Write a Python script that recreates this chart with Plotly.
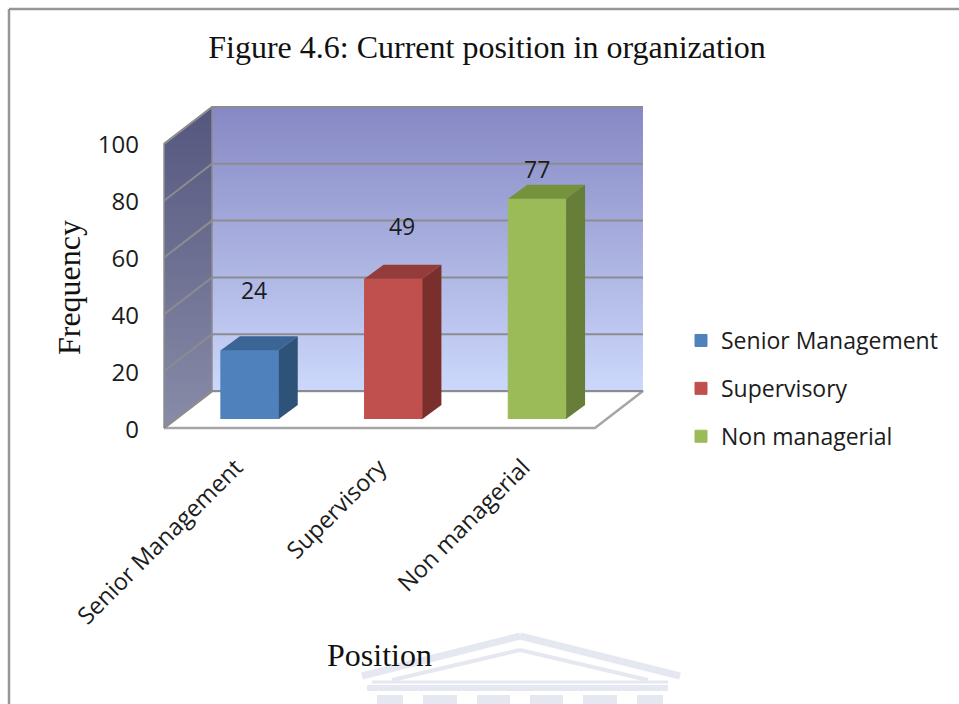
import plotly.graph_objects as go

categories = ["Senior Management", "Supervisory", "Non managerial"]
frequency = [24, 49, 77]
y_ticks = [0, 20, 40, 60, 80, 100]
colors_front = ["#4f81bd", "#c0504d", "#9bbb59"]
colors_top = ["#3a6594", "#943c39", "#76923c"]
colors_side = ["#2f5279", "#7a2f2c", "#667e38"]
label_lift = [20.0, 17.3, 9.3]
label_shift = [0.03, 0.06, 0]

# page margin is removed below, so the figure fills the window
W, H = 959, 704
def px(x): return x / W
def py(y): return 1 - y / H

# oblique depth in axis units
WALL_DX, WALL_DY = 0.334, 13.0
BAR_DX, BAR_DY = 0.132, 4.9
BAR_W = 0.403
PAD_X, PAD_Y = 0.028, 1.4
FS = "Liberation Serif"
FT = "Open Sans"
TXT = "#1c1c1c"

fig = go.Figure()

def poly(xs, ys, axes=("x", "y"), color=None, grad=None, line=None, lw=0, group=None):
    kw = dict(x=xs, y=ys, xaxis=axes[0], yaxis=axes[1], mode="lines", fill="toself",
              showlegend=False, hoverinfo="skip", cliponaxis=False,
              line=dict(color=line or "rgba(0,0,0,0)", width=lw))
    if grad:
        kw["fillgradient"] = dict(type="vertical", colorscale=[[0, grad[0]], [1, grad[1]]])
    else:
        kw["fillcolor"] = color
    if group:
        kw["legendgroup"] = group
    fig.add_trace(go.Scatter(**kw))

L, R = -0.5, 2.5
# floor
poly([L, R, R + WALL_DX, L + WALL_DX, L], [0, 0, WALL_DY, WALL_DY, 0], color="white", line="#a6a6a6", lw=2.5)
# back wall
poly([L + WALL_DX, R + WALL_DX, R + WALL_DX, L + WALL_DX, L + WALL_DX],
     [WALL_DY, WALL_DY, 100 + WALL_DY, 100 + WALL_DY, WALL_DY], grad=("#ccd8fb", "#8688c4"))
# side wall
poly([L, L + WALL_DX, L + WALL_DX, L, L], [0, WALL_DY, 100 + WALL_DY, 100, 0],
     grad=("#888ca8", "#55567e"), line="#8c8c90", lw=1.5)
# gridlines on both walls
for t in y_ticks:
    fig.add_trace(go.Scatter(
        x=[L, L + WALL_DX, R + WALL_DX], y=[t, t + WALL_DY, t + WALL_DY], mode="lines",
        line=dict(color="#8c8c90", width=2), showlegend=False, hoverinfo="skip", cliponaxis=False))

# bars
for i, (c, v) in enumerate(zip(categories, frequency)):
    fig.add_trace(go.Bar(x=[i], y=[v], width=BAR_W, name=c, legendgroup=c, xaxis="x2", yaxis="y2",
                         marker=dict(color=colors_front[i], line=dict(color=colors_front[i], width=1)),
                         hoverinfo="skip"))
    l, r = i - BAR_W / 2, i + BAR_W / 2
    poly([l, r, r + BAR_DX, l + BAR_DX, l], [v, v, v + BAR_DY, v + BAR_DY, v],
         axes=("x2", "y2"), color=colors_top[i], group=c)
    poly([r, r + BAR_DX, r + BAR_DX, r, r], [0, BAR_DY, v + BAR_DY, v, 0],
         axes=("x2", "y2"), color=colors_side[i], group=c)

# data labels
fig.add_trace(go.Scatter(
    x=[i + s for i, s in enumerate(label_shift)],
    y=[v + d for v, d in zip(frequency, label_lift)],
    text=[str(v) for v in frequency], mode="text", textposition="middle center",
    textfont=dict(family=FT, size=23, color=TXT),
    xaxis="x2", yaxis="y2", showlegend=False, hoverinfo="skip", cliponaxis=False))

# invisible carrier so the labelled front-plane axes are drawn
fig.add_trace(go.Scatter(x=[0, 1, 2], y=frequency, xaxis="x3", yaxis="y3", mode="markers",
                         marker=dict(opacity=0), showlegend=False, hoverinfo="skip"))

# frame and watermark (page decoration)
WM = "#e6e8f1"
shapes = [
    dict(type="line", xref="paper", yref="paper", x0=px(9), x1=px(9), y0=py(9), y1=py(704),
         line=dict(color="#969696", width=2.5), layer="below"),
    dict(type="line", xref="paper", yref="paper", x0=px(9), x1=px(959), y0=py(9), y1=py(9),
         line=dict(color="#969696", width=2.5), layer="below"),
]
def wm_line(x0, y0, x1, y1, w):
    shapes.append(dict(type="line", xref="paper", yref="paper", x0=px(x0), x1=px(x1), y0=py(y0), y1=py(y1),
                       line=dict(color=WM, width=w), layer="below"))
def wm_rect(x0, y0, x1, y1):
    shapes.append(dict(type="rect", xref="paper", yref="paper", x0=px(x0), x1=px(x1), y0=py(y0), y1=py(y1),
                       fillcolor=WM, line=dict(width=0), layer="below"))
wm_line(362, 676, 520, 636, 7); wm_line(520, 636, 680, 676, 7)
wm_line(392, 680, 520, 650, 4); wm_line(520, 650, 648, 680, 4)
wm_line(372, 682, 668, 682, 3)
wm_rect(367, 685, 668, 691)
for a, b in [(377, 403), (423, 457), (477, 510), (530, 563), (583, 617), (637, 663)]:
    wm_rect(a, 695, b, 704)

fig.update_layout(
    width=W, height=H, autosize=False,
    margin=dict(l=0, r=0, t=0, b=0),
    paper_bgcolor="white", plot_bgcolor="rgba(0,0,0,0)",
    barmode="overlay", shapes=shapes,
    title=dict(text="Figure 4.6: Current position in organization",
               font=dict(family=FS, size=32, color="#111111"),
               x=px(487), xanchor="center", y=py(47), yanchor="middle"),
    legend=dict(x=px(681), y=py(319), xanchor="left", yanchor="top",
                font=dict(family=FT, size=23, color=TXT),
                bgcolor="rgba(0,0,0,0)", tracegroupgap=15, traceorder="grouped"),
    # wall plane (unlabelled)
    xaxis=dict(domain=[px(160), px(647)], range=[L - PAD_X, R + WALL_DX + PAD_X], anchor="y", visible=False),
    yaxis=dict(domain=[py(432), py(103)], range=[-PAD_Y, 100 + WALL_DY + PAD_Y], anchor="x", visible=False),
    # bar plane
    xaxis2=dict(domain=[px(178), px(609)], range=[L, R], anchor="y2", visible=False),
    yaxis2=dict(domain=[py(419), py(133)], range=[0, 100], anchor="x2", visible=False),
    # front plane, carries the labels
    xaxis3=dict(domain=[px(164), px(595)], range=[L, R], anchor="y3",
                tickmode="array", tickvals=list(range(3)), ticktext=categories,
                tickangle=-45, showgrid=False, zeroline=False, ticks="", showline=False,
                ticklabelstandoff=18,
                tickfont=dict(family=FT, size=23.5, color=TXT), automargin=False,
                title=dict(text="Position", standoff=13, font=dict(family=FS, size=32, color="#111111"))),
    yaxis3=dict(domain=[py(430), py(145)], range=[0, 100], anchor="x3",
                tickmode="array", tickvals=y_ticks, showgrid=False, zeroline=False, ticks="", showline=False,
                ticklabelstandoff=24,
                tickfont=dict(family=FT, size=24, color=TXT), automargin=False,
                title=dict(text="Frequency", standoff=7, font=dict(family=FS, size=32, color="#111111"))),
)

fig.write_html("out.html", default_width=f"{W}px", default_height=f"{H}px",
               config={"displayModeBar": False},
               post_script="document.body.style.margin='0';document.documentElement.style.overflow='hidden';")
